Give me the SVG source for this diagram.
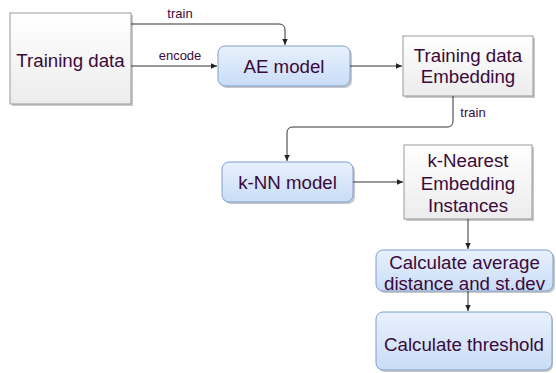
<svg xmlns="http://www.w3.org/2000/svg" width="556" height="373" viewBox="0 0 556 373">
<defs>
<linearGradient id="gw" x1="0" y1="0" x2="0" y2="1"><stop offset="0" stop-color="#ffffff"/><stop offset="1" stop-color="#ececec"/></linearGradient>
<linearGradient id="gb" x1="0" y1="0" x2="0" y2="1"><stop offset="0" stop-color="#e8f1fd"/><stop offset="1" stop-color="#c9dcf6"/></linearGradient>
<marker id="ar" viewBox="0 0 10 10" refX="9" refY="5" markerWidth="7" markerHeight="7" orient="auto" markerUnits="userSpaceOnUse"><path d="M0,1 L9,5 L0,9 Z" fill="#222"/></marker>
</defs>
<style>
.w{fill:url(#gw);stroke:#9a9a9a;stroke-width:1}
.b{fill:url(#gb);stroke:#7f9fcc;stroke-width:1}
.sh{fill:#c8c8c8}
.t{font-family:"Liberation Sans",Arial,sans-serif;font-size:18.7px;fill:#3a0a3a;text-anchor:middle}
.l{font-family:"Liberation Sans",Arial,sans-serif;font-size:13px;fill:#3a0a3a;text-anchor:middle}
.c{fill:none;stroke:#333;stroke-width:1}
</style>
<rect width="556" height="373" fill="#ffffff"/>
<g id="training-data">
<rect class="sh" x="12" y="15" width="121" height="91"/>
<rect class="w" x="10" y="13" width="121" height="91"/>
<text class="t" x="70.5" y="67">Training data</text>
</g>
<g id="ae-model">
<rect class="sh" x="220" y="48" width="132" height="40" rx="7"/>
<rect class="b" x="218" y="46" width="132" height="40" rx="7"/>
<text class="t" x="284" y="73">AE model</text>
</g>
<g id="embedding">
<rect class="sh" x="405" y="38" width="130" height="60"/>
<rect class="w" x="403" y="36" width="130" height="60"/>
<text class="t" x="468" y="62">Training data</text>
<text class="t" x="468" y="83">Embedding</text>
</g>
<g id="knn-model">
<rect class="sh" x="224" y="164" width="131" height="40" rx="7"/>
<rect class="b" x="222" y="162" width="131" height="40" rx="7"/>
<text class="t" x="287.5" y="189">k-NN model</text>
</g>
<g id="k-nearest">
<rect class="sh" x="406" y="147" width="128" height="74"/>
<rect class="w" x="404" y="145" width="128" height="74"/>
<text class="t" x="468" y="167">k-Nearest</text>
<text class="t" x="468" y="190">Embedding</text>
<text class="t" x="468" y="212">Instances</text>
</g>
<g id="avg-dist">
<rect class="sh" x="378" y="252" width="177" height="41" rx="7"/>
<rect class="b" x="376" y="250" width="177" height="41" rx="7"/>
<text class="t" x="464.5" y="269">Calculate average</text>
<text class="t" x="464.5" y="290">distance and st.dev</text>
</g>
<g id="threshold">
<rect class="sh" x="378" y="314" width="175" height="58" rx="7"/>
<rect class="b" x="376" y="312" width="176" height="58" rx="7"/>
<text class="t" x="464" y="351">Calculate threshold</text>
</g>
<g id="connectors">
<path class="c" d="M131,24 H279 Q285,24 285,30 V45" marker-end="url(#ar)"/>
<text class="l" x="180" y="18">train</text>
<path class="c" d="M131,66 H217" marker-end="url(#ar)"/>
<text class="l" x="180" y="60">encode</text>
<path class="c" d="M453,96 V121 Q453,127 447,127 H293 Q287,127 287,133 V161" marker-end="url(#ar)"/>
<text class="l" x="473" y="117">train</text>
<path class="c" d="M350,66 H402" marker-end="url(#ar)"/>
<path class="c" d="M353,182 H403" marker-end="url(#ar)"/>
<path class="c" d="M468,219 V249" marker-end="url(#ar)"/>
<path class="c" d="M468,291 V311" marker-end="url(#ar)"/>
</g>
</svg>
